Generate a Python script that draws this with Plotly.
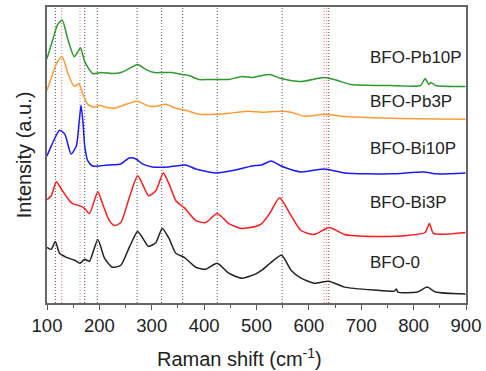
import plotly.graph_objects as go

# Raman shift (cm^-1) and intensity (a.u., stacked offsets) for each sample
pb10_x = [100, 111, 120, 129, 140, 152, 158, 164, 172, 187, 203, 225, 241, 257, 273, 289, 305, 320, 339, 358, 371, 390, 409, 425, 447, 472, 491, 510, 525, 547, 585, 630, 655, 680, 756, 813, 822, 829, 833, 842, 899]
pb10_y = [246, 265, 280, 285, 265, 248, 252, 257, 243, 231, 232, 231, 232, 236, 240, 235, 232, 232, 232, 230, 229, 225, 225, 225, 225, 228, 227, 229, 230, 226, 223, 227, 224, 220, 219, 219, 226, 220, 222, 219, 218]

pb3_x = [100, 111, 120, 129, 140, 152, 161, 168, 178, 191, 200, 213, 229, 251, 273, 295, 308, 327, 346, 365, 390, 422, 447, 485, 510, 547, 566, 592, 630, 661, 756, 899]
pb3_y = [214, 231, 243, 248, 231, 218, 221, 211, 200, 197, 199, 197, 196, 200, 203, 198, 198, 200, 196, 194, 190, 190, 191, 193, 192, 193, 192, 188, 190, 188, 186, 185]

bi10_x = [100, 108, 124, 134, 146, 156, 161, 165, 169, 172, 178, 187, 219, 241, 257, 270, 282, 301, 333, 365, 384, 422, 460, 491, 510, 528, 547, 585, 630, 668, 756, 819, 845, 899]
bi10_y = [148, 158, 174, 170, 150, 158, 180, 199, 180, 158, 143, 138, 139, 140, 146, 145, 140, 137, 137, 139, 135, 131, 134, 138, 139, 143, 138, 132, 135, 131, 130, 132, 130, 131]

bi3_x = [100, 108, 118, 127, 140, 149, 162, 172, 181, 197, 206, 219, 229, 241, 257, 273, 282, 294, 308, 322, 333, 346, 362, 384, 403, 425, 447, 472, 498, 510, 525, 544, 566, 585, 610, 639, 668, 725, 788, 822, 830, 838, 899]
bi3_y = [104, 108, 122, 115, 105, 100, 98, 95, 90, 112, 100, 83, 78, 81, 106, 128, 120, 108, 113, 131, 120, 103, 96, 83, 81, 90, 80, 75, 77, 80, 90, 106, 88, 73, 69, 76, 69, 67, 68, 71, 80, 70, 71]

bfo0_x = [100, 108, 116, 124, 137, 153, 163, 172, 181, 197, 210, 225, 241, 257, 273, 282, 294, 308, 320, 333, 346, 362, 384, 403, 425, 447, 472, 498, 510, 528, 548, 566, 585, 610, 638, 668, 725, 763, 767, 770, 807, 826, 842, 899]
bfo0_y = [56, 54, 62, 50, 46, 43, 40, 44, 42, 64, 45, 36, 38, 56, 72, 66, 57, 61, 75, 65, 50, 46, 36, 34, 40, 30, 25, 29, 33, 41, 48, 33, 25, 20, 22, 16, 13, 12, 14, 11, 11, 16, 11, 9]

series_names = ["BFO-Pb10P", "BFO-Pb3P", "BFO-Bi10P", "BFO-Bi3P", "BFO-0"]
series_x = [pb10_x, pb3_x, bi10_x, bi3_x, bfo0_x]
series_y = [pb10_y, pb3_y, bi10_y, bi3_y, bfo0_y]
series_colors = ["#2e9a2e", "#ff9a33", "#1a1aff", "#ff1a1a", "#222222"]
label_x = 712
label_y = [247, 203, 156, 101, 41]

black_lines = [116, 172, 196, 272, 319, 359, 425, 549, 638]
red_lines = [128, 163, 629, 634]

x_ticks = [100, 200, 300, 400, 500, 600, 700, 800, 900]
x_title = "Raman shift (cm<sup>-1</sup>)"
y_title = "Intensity (a.u.)"

fig = go.Figure()
for xs, ys, nm, c in zip(series_x, series_y, series_names, series_colors):
    fig.add_trace(go.Scatter(x=xs, y=ys, mode="lines", name=nm,
                             line=dict(color=c, width=1.5, shape="spline", smoothing=0.6),
                             showlegend=False))

for v in black_lines:
    fig.add_vline(x=v, line=dict(color="#555555", width=1, dash="1px,2px"), layer="below")
for v in red_lines:
    fig.add_vline(x=v, line=dict(color="#ff7070", width=1, dash="1px,2px"), layer="below")

for nm, yy in zip(series_names, label_y):
    fig.add_annotation(x=label_x, y=yy, text=nm, showarrow=False, xanchor="left",
                       xref="x", yref="y",
                       font=dict(family="Liberation Sans, Arial", size=17, color="#222222"))

fig.add_annotation(x=0.46, y=-0.185, xref="paper", yref="paper", text=x_title,
                   showarrow=False, xanchor="center", yanchor="middle",
                   font=dict(family="Liberation Sans, Arial", size=20, color="#222222"))

fig.update_layout(
    width=486, height=371,
    margin=dict(l=47, r=17, t=5, b=68),
    paper_bgcolor="white", plot_bgcolor="white",
    font=dict(family="Liberation Sans, Arial", color="#222222"),
    xaxis=dict(range=[100, 900], tickvals=x_ticks, ticks="outside", ticklen=5,
               tickcolor="#555555", tickfont=dict(size=18.5),
               minor=dict(ticks="outside", ticklen=3, dtick=50, tickcolor="#555555"),
               showline=True, linecolor="#666666", linewidth=1.5, mirror=True,
               showgrid=False, zeroline=False),
    yaxis=dict(range=[0, 298], showticklabels=False, ticks="",
               showline=True, linecolor="#666666", linewidth=1.5, mirror=True,
               showgrid=False, zeroline=False,
               title=dict(text=y_title, font=dict(size=20), standoff=8)),
)

fig.write_html("out.html")
